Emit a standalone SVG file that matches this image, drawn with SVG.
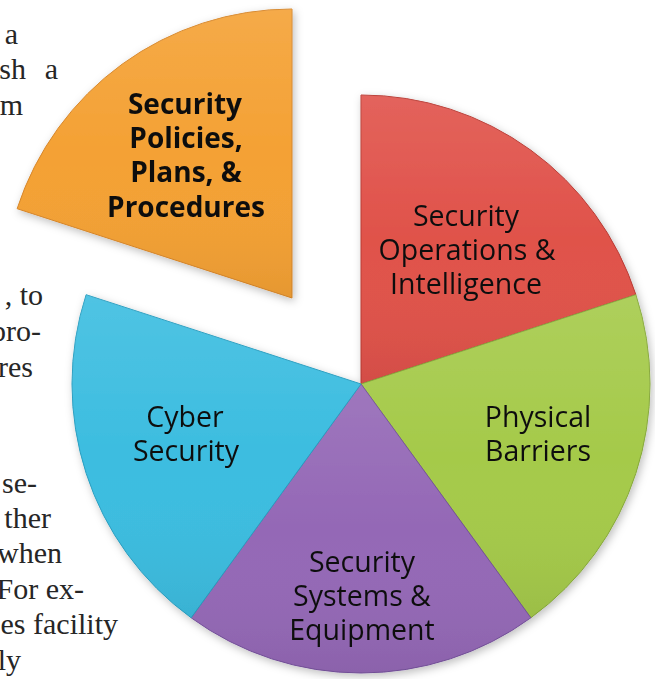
<svg xmlns="http://www.w3.org/2000/svg" width="655" height="679" viewBox="0 0 655 679">
<defs>
<style>
.bg{font-family:"Liberation Serif","DejaVu Serif",serif;font-size:30px;fill:#262626;text-anchor:end}
.lbl{font-family:"Open Sans","Noto Sans",sans-serif;font-size:28.5px;fill:#111;text-anchor:middle}
.bold{font-family:"Open Sans","Noto Sans",sans-serif;font-size:28px;font-weight:bold;fill:#111;text-anchor:middle}
</style>
<filter id="sh" x="-10%" y="-10%" width="120%" height="120%">
<feDropShadow dx="2" dy="3" stdDeviation="4" flood-color="#000" flood-opacity="0.25"/>
</filter>
<linearGradient id="gloss" x1="0" y1="0" x2="0" y2="1">
<stop offset="0" stop-color="#fff" stop-opacity="0.1"/>
<stop offset="0.5" stop-color="#fff" stop-opacity="0"/>
<stop offset="1" stop-color="#000" stop-opacity="0.06"/>
</linearGradient>
</defs>
<rect width="655" height="679" fill="#ffffff"/>
<g id="page-text">
<text class="bg" x="18" y="44">a</text>
<text class="bg" x="26" y="79">sh</text>
<text class="bg" x="58" y="79">a</text>
<text class="bg" x="23" y="115">m</text>
<text class="bg" x="43" y="305">, to</text>
<text class="bg" x="41" y="341">pro-</text>
<text class="bg" x="33" y="377">res</text>
<text class="bg" x="37" y="493">se-</text>
<text class="bg" x="51" y="528">ther</text>
<text class="bg" x="62" y="563">when</text>
<text class="bg" x="84" y="599">For ex-</text>
<text class="bg" x="118" y="634">es facility</text>
<text class="bg" x="21" y="670">ly</text>
</g>
<g id="pie" filter="url(#sh)">
<g id="slice-operations">
<path d="M361,384 L361,95 A289,289 0 0,1 635.86,294.69 Z" fill="#E0524A" stroke="#b83a33" stroke-width="1"/>
<path d="M361,384 L361,95 A289,289 0 0,1 635.86,294.69 Z" fill="url(#gloss)"/>
<text class="lbl" x="466" y="226">Security</text>
<text class="lbl" x="467" y="260">Operations &amp;</text>
<text class="lbl" x="466" y="294">Intelligence</text>
</g>
<g id="slice-barriers">
<path d="M361,384 L635.86,294.69 A289,289 0 0,1 530.87,617.81 Z" fill="#A5CA4A" stroke="#86a83a" stroke-width="1"/>
<path d="M361,384 L635.86,294.69 A289,289 0 0,1 530.87,617.81 Z" fill="url(#gloss)"/>
<text class="lbl" x="538" y="427">Physical</text>
<text class="lbl" x="538" y="461">Barriers</text>
</g>
<g id="slice-systems">
<path d="M361,384 L530.87,617.81 A289,289 0 0,1 191.13,617.81 Z" fill="#9468B6" stroke="#74509a" stroke-width="1"/>
<path d="M361,384 L530.87,617.81 A289,289 0 0,1 191.13,617.81 Z" fill="url(#gloss)"/>
<text class="lbl" x="362" y="572">Security</text>
<text class="lbl" x="362" y="606">Systems &amp;</text>
<text class="lbl" x="362" y="640">Equipment</text>
</g>
<g id="slice-cyber">
<path d="M361,384 L191.13,617.81 A289,289 0 0,1 86.14,294.69 Z" fill="#3CBDE0" stroke="#2a9ec0" stroke-width="1"/>
<path d="M361,384 L191.13,617.81 A289,289 0 0,1 86.14,294.69 Z" fill="url(#gloss)"/>
<text class="lbl" x="185" y="427">Cyber</text>
<text class="lbl" x="186" y="461">Security</text>
</g>
<g id="slice-policies">
<path d="M292,298 L17.14,208.69 A289,289 0 0,1 292,9 Z" fill="#F4A134" stroke="#d6862a" stroke-width="1"/>
<path d="M292,298 L17.14,208.69 A289,289 0 0,1 292,9 Z" fill="url(#gloss)"/>
<text class="bold" x="185" y="114">Security</text>
<text class="bold" x="186" y="148">Policies,</text>
<text class="bold" x="186" y="182">Plans, &amp;</text>
<text class="bold" x="186" y="217">Procedures</text>
</g>
</g>
</svg>
